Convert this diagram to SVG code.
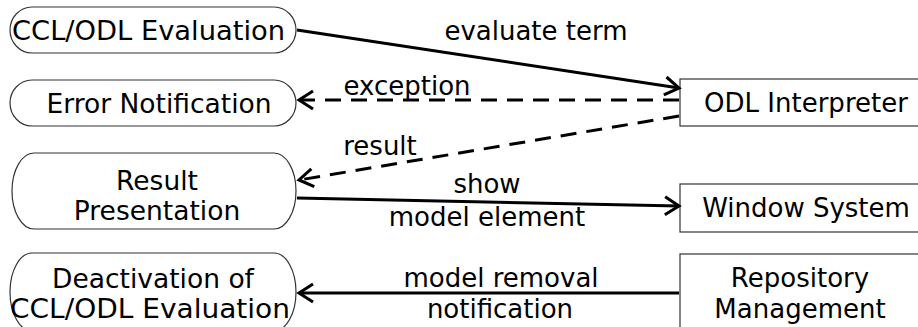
<svg xmlns="http://www.w3.org/2000/svg" width="918" height="327" viewBox="0 0 918 327">
<style>
text{font-family:"DejaVu Sans",Verdana,sans-serif;font-size:26px;fill:#000;text-anchor:middle}
.nt{font-size:26.5px}
.n{fill:#fff;stroke:#333;stroke-width:1.2}
.e{fill:none;stroke:#000;stroke-width:3}
.d{stroke-dasharray:16 10}
</style>
<defs>
<marker id="ah" markerUnits="userSpaceOnUse" viewBox="-16 -11 18 22" refX="0" refY="0" markerWidth="18" markerHeight="22" orient="auto" overflow="visible">
<path d="M-14,-9 L0,0 L-14,9" fill="none" stroke="#000" stroke-width="3"/>
</marker>
</defs>
<rect width="918" height="327" fill="#fff"/>
<g id="ccl-eval"><rect class="n" x="10" y="7" width="286" height="46" rx="22" ry="23"/><text class="nt" x="148.5" y="40" textLength="273" lengthAdjust="spacingAndGlyphs">CCL/ODL Evaluation</text></g>
<g id="error-notification"><rect class="n" x="10" y="80" width="286" height="46" rx="22" ry="23"/><text class="nt" x="159" y="113">Error Notification</text></g>
<g id="result-presentation"><rect class="n" x="12" y="153" width="284" height="76" rx="22" ry="38"/><text class="nt" x="157" y="190">Result</text><text class="nt" x="157" y="220">Presentation</text></g>
<g id="deactivation"><rect class="n" x="10" y="253" width="286" height="78" rx="22" ry="39"/><text class="nt" x="153" y="288">Deactivation of</text><text class="nt" x="150" y="318" textLength="280" lengthAdjust="spacingAndGlyphs">CCL/ODL Evaluation</text></g>
<g id="odl-interpreter"><rect class="n" x="680" y="79" width="240" height="47"/><text x="806" y="112">ODL Interpreter</text></g>
<g id="window-system"><rect class="n" x="680" y="184" width="240" height="48"/><text x="806" y="217">Window System</text></g>
<g id="repository-management"><rect class="n" x="680" y="254" width="240" height="80"/><text x="800" y="287">Repository</text><text x="800" y="318">Management</text></g>
<g id="connectors">
<line class="e" x1="297" y1="30" x2="679" y2="88" marker-end="url(#ah)"/>
<line class="e d" x1="679" y1="100" x2="299" y2="100" marker-end="url(#ah)"/>
<line class="e d" x1="679" y1="116" x2="299" y2="180" marker-end="url(#ah)"/>
<line class="e" x1="297" y1="198" x2="679" y2="206" marker-end="url(#ah)"/>
<line class="e" x1="679" y1="293" x2="299" y2="293" marker-end="url(#ah)"/>
<text x="536" y="40">evaluate term</text>
<text x="407" y="95">exception</text>
<text x="380" y="155">result</text>
<text x="487" y="193">show</text>
<text x="487" y="226">model element</text>
<text x="501" y="287">model removal</text>
<text x="500" y="318">notification</text>
</g>
</svg>
